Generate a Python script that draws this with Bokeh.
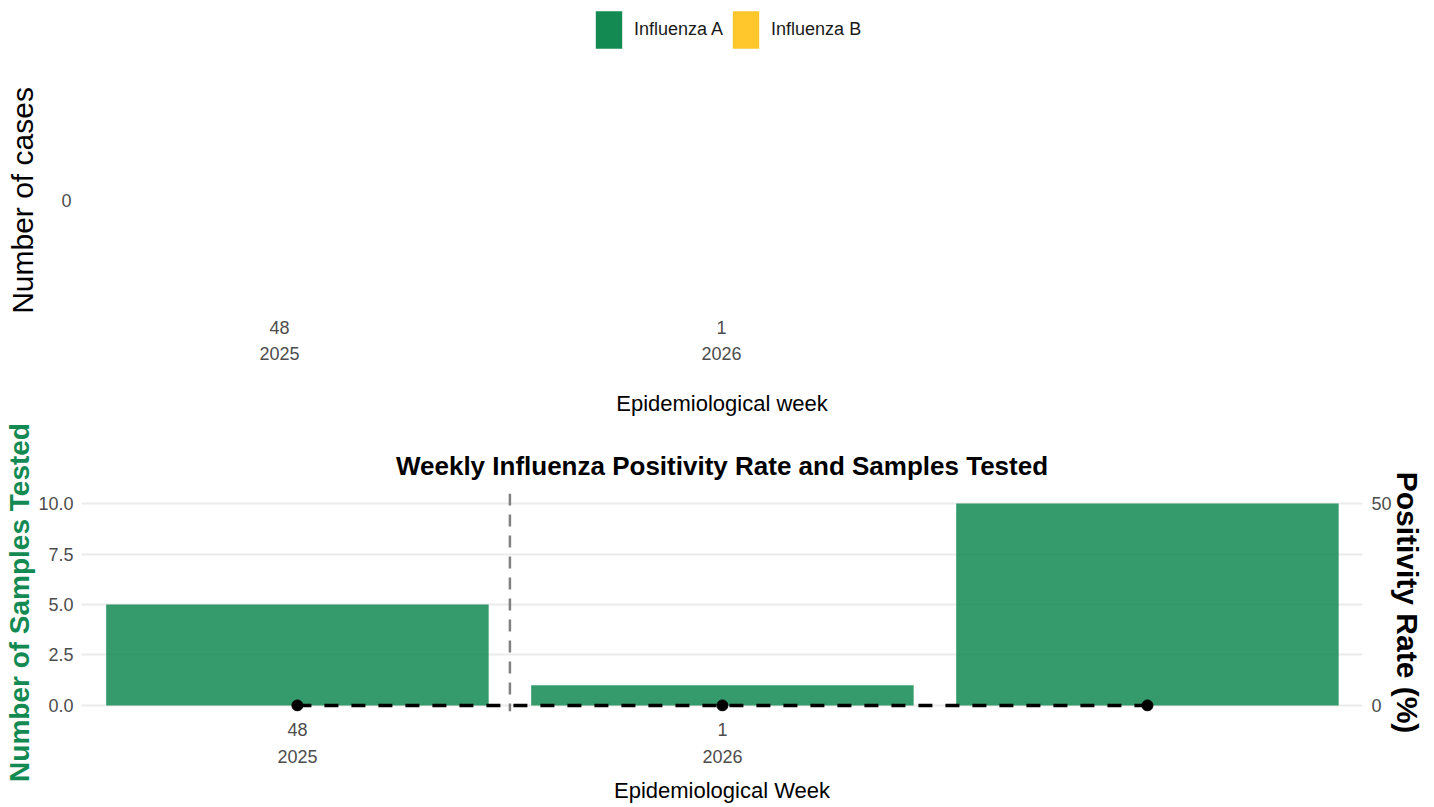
from bokeh.plotting import figure
from bokeh.models import (Range1d, LinearAxis, FixedTicker, Legend, LegendItem, Span,
                          ColumnDataSource, PrintfTickFormatter)
from bokeh.layouts import column
from bokeh.embed import file_html
from bokeh.resources import INLINE

# ---------------- data ----------------
# bottom panel (samples tested / positivity)
week_index = [0, 1, 2]
week_tick_labels = ["48\n2025", "1\n2026", ""]
samples_tested = [5, 1, 10]
positivity_rate = [0, 0, 0]
samples_ticks = [0, 2.5, 5, 7.5, 10]
positivity_ticks = [0, 50]

# top panel (cases by influenza type), x = weeks since week 48/2025
case_weeks = [0, 5, 10]
flu_a_cases = [0, 0, 0]
flu_b_cases = [0, 0, 0]
case_tick_weeks = [0, 5]
case_tick_labels = ["48\n2025", "1\n2026"]
case_ticks = [0]
series_names = ["Influenza A", "Influenza B"]

# ---------------- style ----------------
GREEN = "#138a52"
YELLOW = "#ffc72c"
FONT = "'Liberation Sans', Arial, sans-serif"
TICK_COL = "#4d4d4d"
W = 1434


def style_axis(ax, label, label_size, label_style="normal", label_color="black",
               tick_standoff=0, label_standoff=0, line_height=1.2):
    ax.axis_line_color = None
    ax.major_tick_line_color = None
    ax.minor_tick_line_color = None
    ax.major_tick_out = 0
    ax.major_tick_in = 0
    ax.minor_tick_out = 0
    ax.minor_tick_in = 0
    ax.major_label_text_font = FONT
    ax.major_label_text_font_size = "18px"
    ax.major_label_text_color = TICK_COL
    ax.major_label_text_line_height = line_height
    ax.major_label_standoff = tick_standoff
    ax.axis_label = label
    ax.axis_label_text_font = FONT
    ax.axis_label_text_font_size = label_size
    ax.axis_label_text_font_style = label_style
    ax.axis_label_text_color = label_color
    ax.axis_label_standoff = label_standoff


src_cases = ColumnDataSource(dict(x=case_weeks, a=flu_a_cases, b=flu_b_cases))

# ---------------- legend strip ----------------
leg_fig = figure(width=W, height=60, output_backend="svg", toolbar_location=None,
                 x_axis_type=None, y_axis_type=None,
                 x_range=Range1d(-2.24, 12.25), y_range=Range1d(0, 1),
                 min_border_left=81, min_border_right=72, min_border_top=0, min_border_bottom=0)
leg_fig.outline_line_color = None
leg_stack = leg_fig.vbar_stack(["a", "b"], x="x", width=4.5, color=[GREEN, YELLOW],
                               line_color=None, source=src_cases)
legend = Legend(items=[LegendItem(label=series_names[0], renderers=[leg_stack[0]]),
                       LegendItem(label=series_names[1], renderers=[leg_stack[1]])],
                location=(511, 7), orientation="horizontal",
                glyph_width=33, glyph_height=47, label_standoff=9, spacing=6,
                padding=0, margin=0, border_line_color=None, background_fill_alpha=0,
                label_text_font=FONT, label_text_font_size="18px",
                label_text_color="#1a1a1a")
leg_fig.add_layout(legend, "center")

# ---------------- top panel ----------------
top = figure(width=W, height=358, output_backend="svg", toolbar_location=None,
             x_range=Range1d(-2.24, 12.25), y_range=Range1d(-1.0, 1.0),
             min_border_left=81, min_border_right=72, min_border_top=23, min_border_bottom=99)
top.outline_line_color = None
top.grid.visible = False
top.vbar_stack(["a", "b"], x="x", width=4.5, color=[GREEN, YELLOW],
               line_color=None, source=src_cases)

xa = top.xaxis[0]
xa.ticker = FixedTicker(ticks=case_tick_weeks)
xa.major_label_overrides = {w: l for w, l in zip(case_tick_weeks, case_tick_labels)}
style_axis(xa, "Epidemiological week", "22px", tick_standoff=0, label_standoff=24,
           line_height=1.3)

ya = top.yaxis[0]
ya.ticker = FixedTicker(ticks=case_ticks)
style_axis(ya, "Number of cases", "30px", tick_standoff=10, label_standoff=19)

# ---------------- bottom panel ----------------
bot = figure(width=W, height=389, output_backend="svg", toolbar_location=None,
             x_range=Range1d(-0.508, 2.506), y_range=Range1d(-0.3, 10.5),
             min_border_left=81, min_border_right=72, min_border_top=75, min_border_bottom=96)
bot.outline_line_color = None
bot.extra_y_ranges = {"pos": Range1d(-1.5, 52.5)}

bot.title.text = "Weekly Influenza Positivity Rate and Samples Tested"
bot.title.align = "center"
bot.title.text_font = FONT
bot.title.text_font_size = "26px"
bot.title.text_font_style = "bold"
bot.title.text_color = "black"
bot.title.standoff = 26

bot.xgrid.visible = False
bot.ygrid.ticker = FixedTicker(ticks=samples_ticks)
bot.ygrid.grid_line_color = "#ebebeb"
bot.ygrid.grid_line_width = 2

src_bot = ColumnDataSource(dict(x=week_index, samples=samples_tested, pos=positivity_rate))
bot.vbar(x="x", top="samples", width=0.9, fill_color=GREEN, fill_alpha=0.85,
         line_color=None, source=src_bot)
bot.add_layout(Span(location=0.5, dimension="height", line_color="#808080",
                    line_width=2.5, line_dash="12 9"))
bot.line(x="x", y="pos", y_range_name="pos", line_color="black", line_width=3.5,
         line_dash="14 13", source=src_bot)
bot.scatter(x="x", y="pos", y_range_name="pos", size=11, color="black", source=src_bot)

bx = bot.xaxis[0]
bx.ticker = FixedTicker(ticks=[week_index[0], week_index[1]])
bx.major_label_overrides = {i: l for i, l in zip(week_index, week_tick_labels) if l}
style_axis(bx, "Epidemiological Week", "22px", tick_standoff=8, label_standoff=8,
           line_height=1.38)

by = bot.yaxis[0]
by.ticker = FixedTicker(ticks=samples_ticks)
by.formatter = PrintfTickFormatter(format="%.1f")
style_axis(by, "Number of Samples Tested", "28px", label_style="bold",
           label_color=GREEN, tick_standoff=8, label_standoff=0)

ry = LinearAxis(y_range_name="pos", ticker=FixedTicker(ticks=positivity_ticks))
style_axis(ry, "Positivity Rate (%)", "30px", label_style="bold",
           tick_standoff=9, label_standoff=-4)
bot.add_layout(ry, "right")

layout = column(leg_fig, top, bot, spacing=0)
open("out.html", "w").write(file_html(layout, INLINE))
